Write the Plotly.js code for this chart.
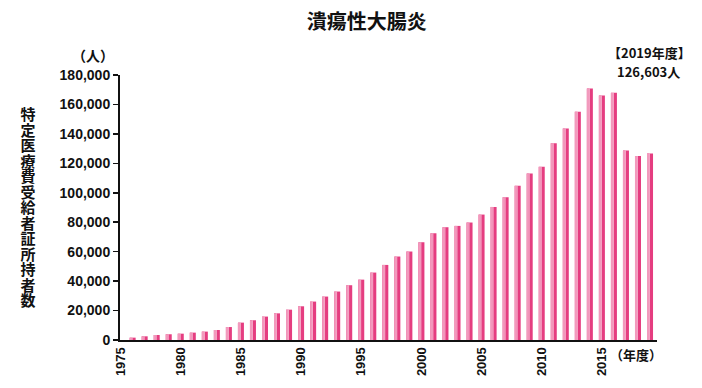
<!DOCTYPE html>
<html>
<head>
<meta charset="utf-8">
<script src="https://cdn.plot.ly/plotly-3.0.1.min.js"></script>
<style>
  html, body { margin: 0; padding: 0; background: #fff; }
  #chart { width: 702px; height: 388px; }
</style>
</head>
<body>
<div id="chart"></div>
<script>
// ---- data ----
const years = [1976,1977,1978,1979,1980,1981,1982,1983,1984,1985,1986,1987,1988,1989,1990,
               1991,1992,1993,1994,1995,1996,1997,1998,1999,2000,2001,2002,2003,2004,2005,
               2006,2007,2008,2009,2010,2011,2012,2013,2014,2015,2016,2017,2018,2019];
const patients = [1600,2500,3400,3900,4300,5000,5700,6800,8800,11800,13400,15900,18100,20600,22900,
                  26100,29500,32900,37200,41000,45800,51000,56700,60100,66400,72500,76600,77500,79800,85200,
                  90400,97000,104700,113100,117600,133700,143700,155116,170781,166060,167872,128734,124961,126603];
const xTickVals = [1975,1980,1985,1990,1995,2000,2005,2010,2015];
const xTickText = ['1975','1980','1985','1990','1995','2000','2005','2010','2015'];
const yTickVals = [0,20000,40000,60000,80000,100000,120000,140000,160000,180000];
const chartTitle = '潰瘍性大腸炎';
const yTitleText = '特定医療費受給者証所持者数';
const yUnit = '（人）';
const xUnit = '（年度）';
const noteLine1 = '【2019年度】';
const noteLine2 = '126,603人';

// ---- layout helpers ----
const W = 702, H = 388;
const L = 120, R = 45, T = 75, B = 48;
const PW = W - L - R, PH = H - T - B;
const px = x => (x - L) / PW;
const py = y => (H - B - y) / PH;
const numFont = 'Liberation Sans, Arial, sans-serif';
const cjkFont = 'Noto Sans CJK JP, Noto Sans, sans-serif';

const traces = [
  { type: 'bar', x: years, y: patients, width: 0.5,
    marker: { color: '#e53d80', line: { width: 0 } }, hoverinfo: 'skip', showlegend: false },
  { type: 'bar', x: years, y: patients, width: 0.18, offset: -0.25,
    marker: { color: '#f29abd', line: { width: 0 } }, hoverinfo: 'skip', showlegend: false },
  { type: 'bar', x: years, y: patients, width: 0.06, offset: -0.07,
    marker: { color: '#f9c8dc', line: { width: 0 } }, hoverinfo: 'skip', showlegend: false }
];

const annotations = [];
annotations.push({ xref: 'paper', yref: 'paper', x: px(28), y: py(207), text: yTitleText,
  showarrow: false, xanchor: 'center', yanchor: 'middle',
  font: { family: cjkFont, size: 15, weight: 700, color: '#111' } });
annotations.push({ xref: 'paper', yref: 'paper', x: px(93), y: py(55), text: yUnit,
  showarrow: false, xanchor: 'center', yanchor: 'middle',
  font: { family: cjkFont, size: 14, weight: 700, color: '#111' } });
annotations.push({ xref: 'paper', yref: 'paper', x: px(636), y: py(354), text: xUnit,
  showarrow: false, xanchor: 'center', yanchor: 'middle',
  font: { family: cjkFont, size: 13, weight: 700, color: '#111' } });
annotations.push({ xref: 'paper', yref: 'paper', x: px(649), y: py(52), text: noteLine1,
  showarrow: false, xanchor: 'center', yanchor: 'middle',
  font: { family: cjkFont, size: 13, weight: 700, color: '#111' } });
annotations.push({ xref: 'paper', yref: 'paper', x: px(648), y: py(71.2), text: noteLine2,
  showarrow: false, xanchor: 'center', yanchor: 'middle',
  font: { family: cjkFont, size: 13, weight: 700, color: '#111' } });

const layout = {
  width: W, height: H,
  margin: { l: L, r: R, t: T, b: B, pad: 0 },
  paper_bgcolor: '#fff', plot_bgcolor: '#fff',
  barmode: 'overlay',
  title: { text: chartTitle, x: 366.7 / W, xref: 'container', xanchor: 'center',
           y: 1 - 21.7 / H, yref: 'container', yanchor: 'middle',
           font: { family: cjkFont, size: 20, weight: 700, color: '#111' } },
  xaxis: {
    range: [1974.95, 2019.58], showgrid: false, zeroline: false,
    showline: true, linecolor: '#111', linewidth: 2,
    ticks: '', tickvals: xTickVals, ticktext: xTickText, tickangle: -90,
    tickfont: { family: numFont, size: 13, weight: 700, color: '#111' }
  },
  yaxis: {
    range: [0, 180000], showgrid: false, zeroline: false,
    showline: true, linecolor: '#111', linewidth: 2,
    ticks: 'outside', ticklen: 5, tickwidth: 1.5, tickcolor: '#111',
    tickvals: yTickVals, tickformat: ',d',
    tickfont: { family: numFont, size: 14, weight: 700, color: '#111' }
  },
  annotations: annotations,
  font: { family: numFont }
};

Plotly.newPlot('chart', traces, layout, { staticPlot: true, displayModeBar: false }).then(() => {
  // Render the y-axis title as vertical (upright stacked) Japanese text
  const texts = document.querySelectorAll('#chart text.annotation-text');
  texts.forEach(el => {
    if (el.textContent !== yTitleText) return;
    el.style.writingMode = 'vertical-rl';
    el.style.textOrientation = 'upright';
    el.style.letterSpacing = '0.5px';
    el.setAttribute('text-anchor', 'middle');
    const r = el.getBoundingClientRect();
    const dx = 28 - (r.left + r.width / 2);
    const dy = 207.5 - (r.top + r.height / 2);
    el.setAttribute('x', (parseFloat(el.getAttribute('x')) || 0) + dx);
    el.setAttribute('y', (parseFloat(el.getAttribute('y')) || 0) + dy);
  });
});
</script>
</body>
</html>
